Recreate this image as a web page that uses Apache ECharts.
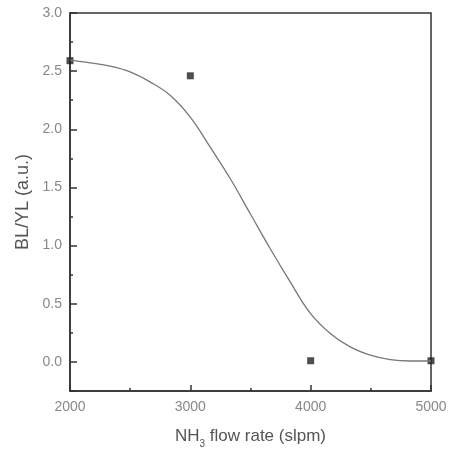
<!DOCTYPE html>
<html>
<head>
<meta charset="utf-8">
<script src="https://cdn.jsdelivr.net/npm/echarts@6/dist/echarts.min.js"></script>
<style>
  html, body { margin: 0; padding: 0; background: #fff; }
  #chart { width: 450px; height: 450px; }
</style>
</head>
<body>
<div id="chart"></div>
<script>
// measured points (flow rate, BL/YL)
var flowRate = [2000, 3000, 4000, 5000]
var ratio = [2.59, 2.46, 0.01, 0.01]

// fitted curve
var fitX = [2000, 2166, 2333, 2499, 2665, 2832, 2998, 3164, 3331, 3497, 3663, 3830, 3996, 4163, 4329, 4496, 4662, 4828, 5000]
var fitY = [2.594, 2.571, 2.543, 2.494, 2.408, 2.293, 2.107, 1.849, 1.577, 1.276, 0.975, 0.688, 0.42, 0.245, 0.129, 0.058, 0.019, 0.008, 0.008]

var xTicks = [2000, 3000, 4000, 5000]

var chart = echarts.init(document.getElementById('chart'))

var labelFont = 'Liberation Sans, Arial, sans-serif'

chart.setOption({
  animation: false,
  grid: {
    left: 70,
    right: 19,
    top: 13,
    bottom: 59,
    containLabel: false,
    outerBoundsMode: 'none',
    show: true,
    borderColor: '#333',
    borderWidth: 1.5
  },
  xAxis: {
    type: 'value',
    min: xTicks[0],
    max: xTicks[xTicks.length - 1],
    interval: 1000,
    name: 'NH{sub|3} flow rate (slpm)',
    nameLocation: 'middle',
    nameGap: 32,
    nameTextStyle: {
      fontFamily: labelFont,
      fontSize: 17,
      color: '#555',
      rich: {
        sub: { fontSize: 10, color: '#555', fontFamily: labelFont, verticalAlign: 'bottom', padding: [16, 0, 0, 0] }
      }
    },
    axisLine: { onZero: false, lineStyle: { color: '#333', width: 1.5 } },
    axisTick: { inside: true, length: 6, lineStyle: { color: '#333', width: 1.5 } },
    minorTick: { show: true, splitNumber: 2, length: 3, lineStyle: { color: '#333', width: 1.5 } },
    splitLine: { show: false },
    axisLabel: {
      fontFamily: labelFont,
      fontSize: 14,
      color: '#888',
      margin: 9,
      formatter: function(v) { return String(v) }
    }
  },
  yAxis: {
    type: 'value',
    min: -0.25,
    max: 3.0,
    splitNumber: 6,
    name: 'BL/YL (a.u.)',
    nameLocation: 'middle',
    nameGap: 30,
    nameTextStyle: {
      fontFamily: labelFont,
      fontSize: 18,
      color: '#555'
    },
    axisLine: { onZero: false, lineStyle: { color: '#333', width: 1.5 } },
    axisTick: { inside: true, length: 7, lineStyle: { color: '#333', width: 1.5 } },
    minorTick: { show: true, splitNumber: 2, length: 3, lineStyle: { color: '#333', width: 1.5 } },
    splitLine: { show: false },
    axisLabel: {
      fontFamily: labelFont,
      fontSize: 14,
      color: '#888',
      margin: 8,
      formatter: function(v) {
        if (v < -0.01) {
          return ''
        }
        return v.toFixed(1)
      }
    }
  },
  series: [
    {
      name: 'fit',
      type: 'line',
      data: fitX.map(function(x, i) { return [x, fitY[i]] }),
      smooth: 0.4,
      showSymbol: false,
      lineStyle: { color: '#777', width: 1.3 }
    },
    {
      name: 'data',
      type: 'scatter',
      data: flowRate.map(function(x, i) { return [x, ratio[i]] }),
      symbol: 'rect',
      symbolSize: 7,
      itemStyle: { color: '#222' }
    }
  ]
})
</script>
</body>
</html>
